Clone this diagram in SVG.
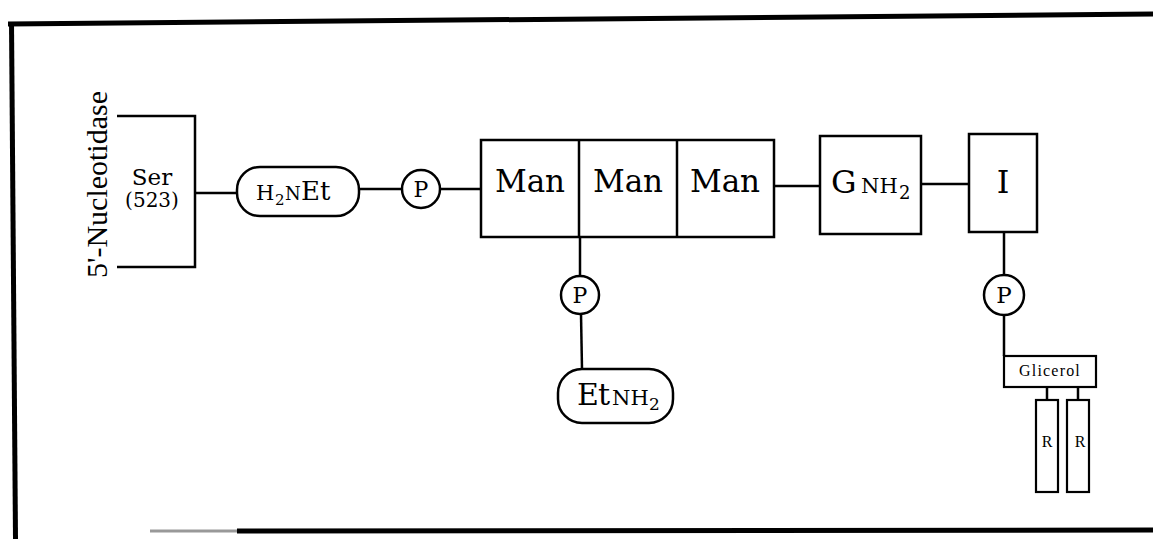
<svg xmlns="http://www.w3.org/2000/svg" width="1153" height="539" viewBox="0 0 1153 539">
  <style>
    .frame { fill: none; stroke: #000; stroke-width: 5; stroke-linecap: butt; }
    .box { fill: #fff; stroke: #000; stroke-width: 2.5; }
    .thin { fill: #fff; stroke: #000; stroke-width: 2.2; }
    .link { fill: none; stroke: #000; stroke-width: 2.5; }
    .serif { font-family: "DejaVu Serif", "Liberation Serif", serif; fill: #000; }
    .times { font-family: "Liberation Serif", "Times New Roman", serif; fill: #000; }
  </style>

  <!-- outer frame -->
  <g id="frame">
    <line class="frame" x1="8" y1="24" x2="1153" y2="14"/>
    <line class="frame" x1="11.5" y1="22" x2="15.5" y2="539"/>
    <line x1="150" y1="531" x2="237" y2="531" stroke="#999" stroke-width="3"/>
    <line class="frame" x1="237" y1="531" x2="1153" y2="530"/>
  </g>

  <!-- connectors -->
  <g id="connectors">
    <line class="link" x1="195" y1="193" x2="237" y2="193"/>
    <line class="link" x1="359" y1="189" x2="402" y2="189"/>
    <line class="link" x1="440" y1="189" x2="481" y2="189"/>
    <line class="link" x1="774" y1="186" x2="820" y2="186"/>
    <line class="link" x1="921" y1="184" x2="969" y2="184"/>
    <line class="link" x1="580" y1="237" x2="580" y2="276"/>
    <line class="link" x1="581" y1="314" x2="582" y2="369"/>
    <line class="link" x1="1004" y1="232" x2="1004" y2="275"/>
    <line class="link" x1="1004" y1="315" x2="1004" y2="356"/>
    <line class="link" x1="1047" y1="387" x2="1047" y2="400"/>
    <line class="link" x1="1078" y1="387" x2="1078" y2="400"/>
  </g>

  <!-- protein anchor: 5'-Nucleotidase bracket with Ser(523) -->
  <g id="protein">
    <polyline class="link" points="117,116 195,116 195,267 117,267"/>
    <text class="times" font-size="30" text-anchor="middle" transform="translate(107,184.5) rotate(-90)">5'-Nucleotidase</text>
    <text class="serif" font-size="23" x="152" y="185" text-anchor="middle">Ser</text>
    <text class="serif" font-size="20" x="152" y="207" text-anchor="middle">(523)</text>
  </g>

  <!-- ethanolamine bridge -->
  <g id="h2net">
    <rect class="box" x="237" y="167" width="122" height="49" rx="23" ry="23"/>
    <text class="serif" y="200"><tspan x="256" font-size="21">H</tspan><tspan x="275" dy="5" font-size="15">2</tspan><tspan x="285" dy="-5" font-size="18">N</tspan><tspan x="301" font-size="26">Et</tspan></text>
  </g>

  <g id="p1">
    <circle class="box" cx="421" cy="189" r="19"/>
    <text class="serif" font-size="22" x="421" y="197" text-anchor="middle">P</text>
  </g>

  <!-- trimannose core -->
  <g id="mannose">
    <rect class="box" x="481" y="140" width="293" height="97"/>
    <line class="link" x1="579" y1="140" x2="579" y2="237"/>
    <line class="link" x1="677" y1="140" x2="677" y2="237"/>
    <text class="serif" font-size="31" x="530" y="192" text-anchor="middle">Man</text>
    <text class="serif" font-size="31" x="628" y="192" text-anchor="middle">Man</text>
    <text class="serif" font-size="31" x="725" y="192" text-anchor="middle">Man</text>
  </g>

  <g id="p2">
    <circle class="box" cx="580" cy="295" r="19"/>
    <text class="serif" font-size="22" x="580" y="303" text-anchor="middle">P</text>
  </g>

  <g id="etnh2">
    <rect class="box" x="558" y="369" width="115" height="54" rx="24" ry="24"/>
    <text class="serif" y="405"><tspan x="577" font-size="30">E</tspan><tspan x="598" font-size="30">t</tspan><tspan x="612" font-size="21">NH</tspan><tspan x="649" dy="5" font-size="17">2</tspan></text>
  </g>

  <g id="gnh2">
    <rect class="box" x="820" y="136" width="101" height="98"/>
    <text class="serif" y="193"><tspan x="831" font-size="32">G</tspan><tspan x="861" font-size="21">NH</tspan><tspan x="899" dy="6" font-size="18">2</tspan></text>
  </g>

  <g id="inositol">
    <rect class="box" x="969" y="134" width="68" height="98"/>
    <text class="serif" font-size="32" x="1003" y="193" text-anchor="middle">I</text>
  </g>

  <g id="p3">
    <circle class="box" cx="1004" cy="295" r="20"/>
    <text class="serif" font-size="23" x="1004" y="303" text-anchor="middle">P</text>
  </g>

  <g id="glicerol">
    <rect class="thin" x="1004" y="356" width="92" height="31"/>
    <text class="times" font-size="16" letter-spacing="1.2" x="1050" y="376" text-anchor="middle">Glicerol</text>
  </g>

  <g id="r1">
    <rect class="thin" x="1036" y="400" width="22" height="92"/>
    <text class="times" font-size="16" x="1047" y="447" text-anchor="middle">R</text>
  </g>

  <g id="r2">
    <rect class="thin" x="1067" y="400" width="22" height="92"/>
    <text class="times" font-size="16" x="1080" y="447" text-anchor="middle">R</text>
  </g>
</svg>
